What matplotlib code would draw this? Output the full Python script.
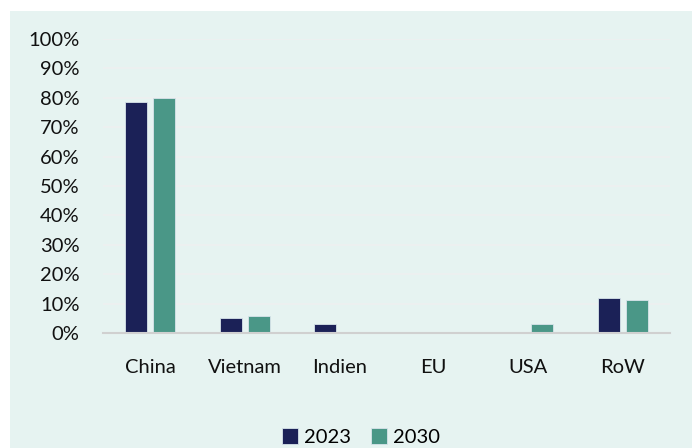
import matplotlib
matplotlib.use("Agg")
import matplotlib.pyplot as plt
import numpy as np
from matplotlib.patches import Rectangle

categories = ["China", "Vietnam", "Indien", "EU", "USA", "RoW"]
series_names = ["2023", "2030"]
values_2023 = [0.785, 0.051, 0.030, 0.0, 0.0, 0.120]
values_2030 = [0.800, 0.058, 0.0, 0.0, 0.030, 0.112]
yticks = [0.0, 0.1, 0.2, 0.3, 0.4, 0.5, 0.6, 0.7, 0.8, 0.9, 1.0]
ytick_labels = ["0%", "10%", "20%", "30%", "40%", "50%", "60%", "70%", "80%", "90%", "100%"]

colors = ["#1B2157", "#4A9787"]
bg = "#E6F3F1"

plt.rcParams['font.family'] = ['Lato', 'DejaVu Sans']

fig = plt.figure(figsize=(6.92, 4.48), dpi=100)
fig.patch.set_facecolor("white")
fig.patches.append(Rectangle((10/692, 0), 1 - 10/692, 1 - 11/448,
                             transform=fig.transFigure, facecolor=bg,
                             edgecolor="none", zorder=-10))

ax = fig.add_axes([103/692, 1 - 333/448, (670-103)/692, (333-39)/448])
ax.set_facecolor(bg)
ax.patch.set_alpha(0)

x = np.arange(len(categories))
w = 0.23
gap = 0.065
ax.bar(x - (w + gap)/2, values_2023, w, color=colors[0], edgecolor="#D8E4EA",
       linewidth=0.6, label=series_names[0], zorder=3)
ax.bar(x + (w + gap)/2, values_2030, w, color=colors[1], edgecolor="#D8E4EA",
       linewidth=0.6, label=series_names[1], zorder=3)

ax.set_xlim(-0.5, len(categories) - 0.5)
ax.set_ylim(0, 1.0)
ax.set_yticks(yticks)
ax.set_yticklabels(ytick_labels)
ax.set_xticks(x)
ax.set_xticklabels(categories)
ax.tick_params(axis='both', length=0, labelsize=14.5, colors="#111111")
ax.tick_params(axis='x', pad=19)
ax.tick_params(axis='y', pad=17)
for s in ["top", "right", "left"]:
    ax.spines[s].set_visible(False)
ax.spines["bottom"].set_color("#D0D0D0")
ax.spines["bottom"].set_linewidth(1.5)
ax.spines["bottom"].set_zorder(4)
ax.grid(axis='y', color="#EEF0F0", linewidth=1.2, zorder=0)
ax.set_axisbelow(True)

fig.legend(loc="center", bbox_to_anchor=(361/692, 1 - 437/448), ncol=2,
           frameon=False, fontsize=14.5, handlelength=0.8, handleheight=0.8,
           handletextpad=0.3, columnspacing=1.0)

fig.savefig("out.png", dpi=100, facecolor=fig.get_facecolor())
